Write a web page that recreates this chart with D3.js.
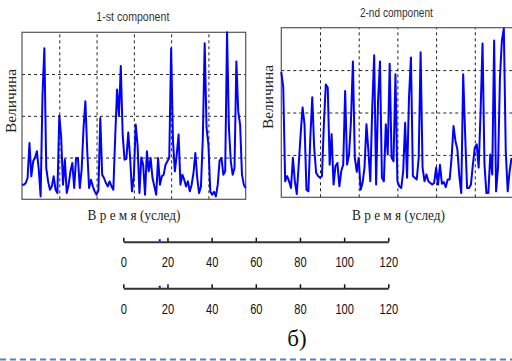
<!DOCTYPE html>
<html>
<head>
<meta charset="utf-8">
<script src="https://cdn.jsdelivr.net/npm/d3@7"></script>
<style>
  body { margin: 0; background: #fff; }
  svg { display: block; }
</style>
</head>
<body>
<div id="chart"></div>
<script>
// values, one sample per time step (0..120)
const comp1 = [
  0.35, 0.35, 0.39, 0.51, 1.35, 0.55, 0.91, 1.0, 1.15, 0.71,
  0.07, 2.5, 3.62, 0.75, 0.43, 0.23, 0.31, 0.55, 0.23, 0.15,
  2.0, 1.5, 0.35, 0.95, 0.15, 0.35, 0.67, 0.87, 0.27, 0.99,
  0.99, 0.27, 0.71, 1.7, 2.35, 1.15, 0.27, 0.47, 0.31, 0.19,
  0.11, 0.21, 1.95, 0.59, 0.51, 0.39, 0.31, 0.43, 0.31, 0.23,
  1.5, 2.63, 2.0, 3.19, 1.55, 0.95, 0.97, 1.6, 0.99, 0.19,
  0.55, 1.79, 1.3, 0.15, 1.0, 0.83, 0.11, 1.15, 0.67, 0.99,
  0.51, 0.31, 0.11, 0.99, 0.35, 0.55, 0.59, 0.83, 0.91, 1.0,
  3.62, 1.39, 0.67, 1.07, 1.55, 0.35, 0.59, 0.47, 0.31, 0.43,
  0.19, 0.35, 0.63, 1.11, 0.51, 0.15, 0.31, 1.47, 3.74, 1.71,
  1.31, 0.19, 0.11, 0.18, 0.07, 0.35, 0.93, 0.99, 0.59, 0.67,
  4.0, 1.71, 0.91, 0.59, 0.75, 3.3, 2.1, 1.79, 0.59, 0.35,
  0.27
];
const comp2 = [
  2.95, 2.6, 0.38, 0.5, 0.38, 0.22, 0.93, 0.38, 0.08, 0.77,
  1.49, 2.12, 1.72, 0.18, 0.14, 1.41, 2.36, 1.17, 0.58, 0.5,
  0.46, 0.5, 1.72, 2.66, 2.59, 0.77, 1.49, 0.3, 0.74, 0.81,
  0.26, 0.62, 0.77, 2.51, 0.77, 1.01, 1.8, 3.2, 0.93, 0.6,
  0.93, 0.18, 0.34, 0.7, 1.72, 1.1, 0.38, 2.12, 3.35, 0.3,
  2.28, 3.2, 0.46, 0.38, 1.72, 1.01, 3.15, 0.93, 0.85, 2.9,
  0.38, 0.26, 0.22, 0.62, 1.76, 0.46, 2.36, 3.3, 0.5, 0.46,
  0.42, 0.93, 3.42, 0.7, 0.38, 0.54, 0.38, 0.34, 0.3, 0.34,
  0.7, 0.3, 0.77, 0.32, 0.36, 0.24, 0.42, 0.42, 0.93, 1.68,
  1.33, 1.13, 0.5, 0.1, 2.9, 1.5, 0.22, 0.22, 0.3, 0.77,
  1.17, 1.25, 0.7, 2.04, 3.63, 0.77, 0.1, 0.1, 1.01, 0.54,
  3.7, 0.14, 0.7, 2.83, 3.7, 3.98, 1.09, 0.14, 0.62, 0.93
];
const plotTitles = ["1-st component", "2-nd component"];
const yLabel = "Величина";
const xLabel = "В р е м я (услед)";
const gridX = [20, 40, 60, 80, 100];
const gridY = [1, 2, 3];
const axisTicks = [0, 20, 40, 60, 80, 100, 120];
const markerPos = [16.5];
const caption = "б)";

const W = 512, H = 361;
const svg = d3.select("#chart").append("svg")
  .attr("width", W)
  .attr("height", H);

const panels = [
  { data: comp1, title: plotTitles[0], left: 22, right: 245.7, top: 32.3, bottom: 199.3, ylx: 12, yly: 101, xlx: 134, xly: 220 },
  { data: comp2, title: plotTitles[1], left: 281.3, right: 513.5, top: 27.7, bottom: 197.3, ylx: 269, yly: 97, xlx: 398.5, xly: 220 }
];

panels.forEach(p => {
  const x = d3.scaleLinear().domain([0, 120]).range([p.left, p.right]);
  const y = d3.scaleLinear().domain([0, 4]).range([p.bottom, p.top]);
  const g = svg.append("g");

  // dotted grid
  g.append("g")
    .attr("transform", `translate(0,${p.bottom})`)
    .call(d3.axisBottom(x).tickValues(gridX).tickSize(-(p.bottom - p.top)).tickFormat(""))
    .call(s => s.select(".domain").remove())
    .selectAll("line")
    .attr("stroke", "#222")
    .attr("stroke-dasharray", "3,3");

  g.append("g")
    .attr("transform", `translate(${p.left},0)`)
    .call(d3.axisLeft(y).tickValues(gridY).tickSize(-(p.right - p.left)).tickFormat(""))
    .call(s => s.select(".domain").remove())
    .selectAll("line")
    .attr("stroke", "#222")
    .attr("stroke-dasharray", "3,3");

  // frame
  g.append("rect")
    .attr("x", p.left)
    .attr("y", p.top)
    .attr("width", p.right - p.left)
    .attr("height", p.bottom - p.top)
    .attr("fill", "none")
    .attr("stroke", "#555")
    .attr("stroke-width", 1.2);

  const line = d3.line()
    .x((d, i) => x(i))
    .y(d => y(d));

  g.append("path")
    .datum(p.data)
    .attr("fill", "none")
    .attr("stroke", "#0000ff")
    .attr("stroke-width", 2)
    .attr("stroke-linejoin", "round")
    .attr("d", line);

  g.append("text")
    .attr("x", (p.left + p.right) / 2 - 1)
    .attr("y", p.top - 11)
    .attr("text-anchor", "middle")
    .attr("font-family", "Liberation Sans, Arial, sans-serif")
    .attr("font-size", 13)
    .attr("textLength", 73)
    .attr("lengthAdjust", "spacingAndGlyphs")
    .attr("fill", "#333")
    .text(p.title);

  g.append("text")
    .attr("transform", `translate(${p.ylx + 4},${p.yly}) rotate(-90)`)
    .attr("text-anchor", "middle")
    .attr("font-family", "Liberation Serif, Times New Roman, serif")
    .attr("font-size", 15)
    .attr("textLength", 64)
    .attr("lengthAdjust", "spacingAndGlyphs")
    .attr("fill", "#222")
    .text(yLabel);

  g.append("text")
    .attr("x", p.xlx)
    .attr("y", p.xly)
    .attr("text-anchor", "middle")
    .attr("font-family", "Liberation Serif, Times New Roman, serif")
    .attr("font-size", 15)
    .attr("textLength", 93)
    .attr("lengthAdjust", "spacingAndGlyphs")
    .attr("fill", "#222")
    .text(xLabel);
});

// two number lines
const ax = d3.scaleLinear().domain([0, 120]).range([123.3, 388.3]);
[241.7, 288.3].forEach(yy => {
  const a = svg.append("g")
    .attr("transform", `translate(0,${yy})`)
    .call(d3.axisBottom(ax).tickValues(axisTicks).tickSize(-4).tickSizeOuter(0).tickPadding(15));
  a.select(".domain").attr("stroke", "#333").attr("stroke-width", 2);
  a.selectAll(".tick line").attr("stroke", "#111").attr("stroke-width", 1.5);
  a.selectAll(".tick text")
    .attr("font-family", "Liberation Sans, Arial, sans-serif")
    .attr("font-size", 15)
    .attr("transform", "scale(0.74,1)")
    .attr("fill", "#111");
  a.selectAll(".marker")
    .data(markerPos)
    .enter()
    .append("rect")
    .attr("class", "marker")
    .attr("x", d => ax(d) - 1)
    .attr("y", -2.5)
    .attr("width", 2)
    .attr("height", 2)
    .attr("fill", "#0000ff");
});

svg.append("text")
  .attr("x", 297)
  .attr("y", 346)
  .attr("text-anchor", "middle")
  .attr("font-family", "Liberation Serif, Times New Roman, serif")
  .attr("font-size", 23)
  .attr("fill", "#111")
  .text(caption);

svg.append("line")
  .attr("x1", 0)
  .attr("x2", W)
  .attr("y1", 359.5)
  .attr("y2", 359.5)
  .attr("stroke", "#4f81bd")
  .attr("stroke-width", 2)
  .attr("stroke-dasharray", "6,4");
</script>
</body>
</html>
